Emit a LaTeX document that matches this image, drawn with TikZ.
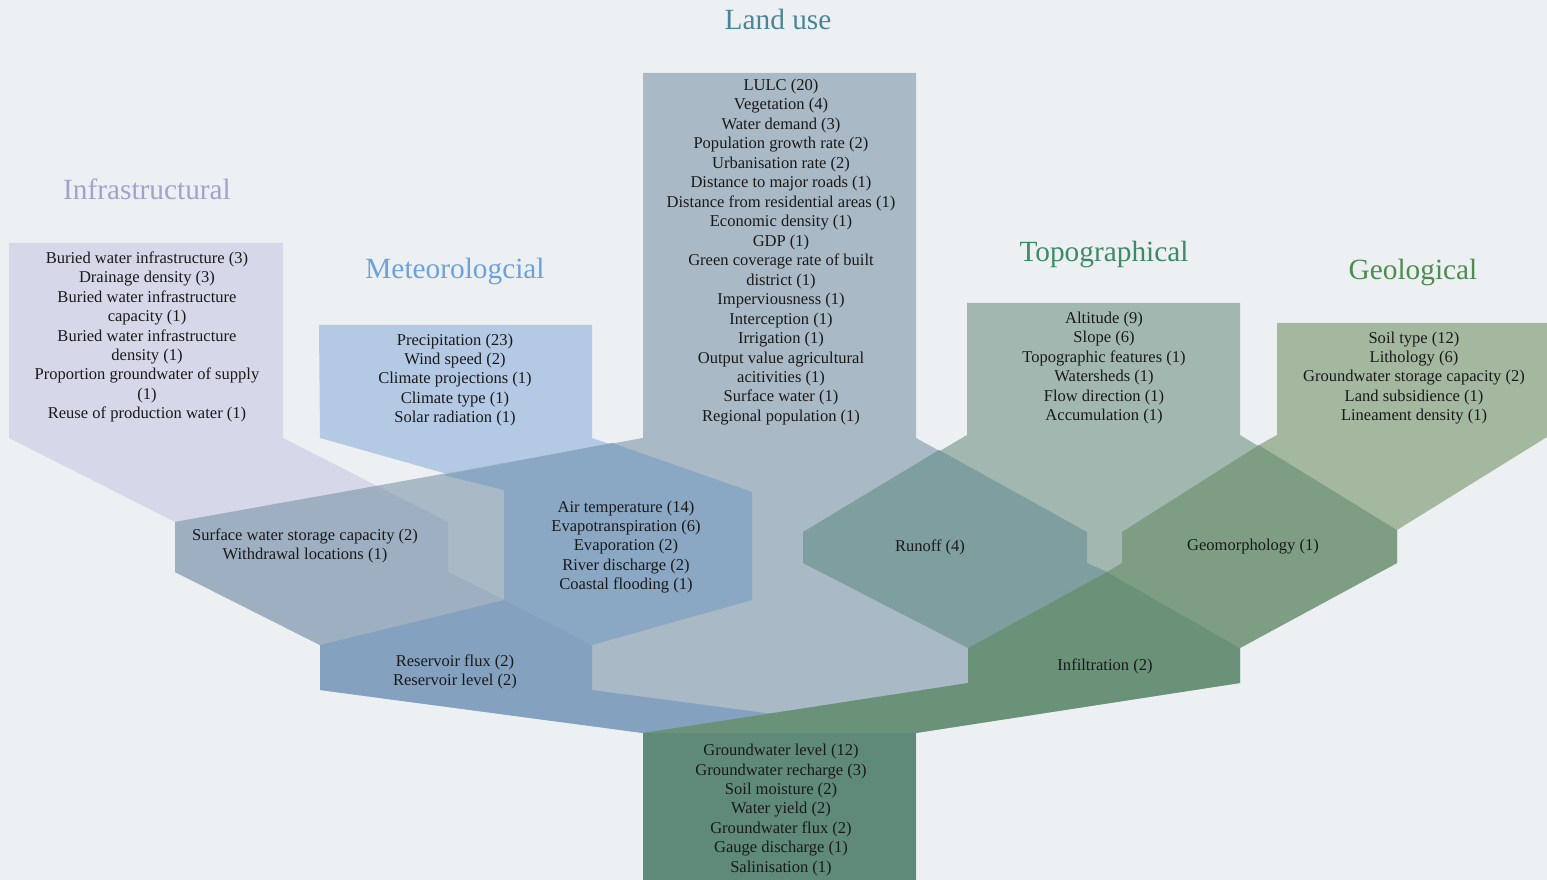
\documentclass[tikz,border=0pt]{standalone}
\usepackage{fontspec}
\setmainfont{Liberation Serif}
\usepackage{xcolor}
\usepackage{tikz}
\usetikzlibrary{positioning}
% fills of the bands and of their overlaps
\definecolor{bgc}{HTML}{EDF0F3}
\definecolor{infraC}{HTML}{D6D8E9}
\definecolor{meteoC}{HTML}{B3C9E4}
\definecolor{landC}{HTML}{A9B9C5}
\definecolor{topoC}{HTML}{A2B7AF}
\definecolor{geoC}{HTML}{A4B8A0}
\definecolor{swaterC}{HTML}{9FAFC2}
\definecolor{airC}{HTML}{8AA8C3}
\definecolor{resC}{HTML}{84A2BF}
\definecolor{runoffC}{HTML}{7E9E9F}
\definecolor{geomC}{HTML}{7E9E84}
\definecolor{infilC}{HTML}{6A9279}
\definecolor{gwC}{HTML}{5F8A7A}
% heading colours
\definecolor{infraT}{HTML}{A3A2CC}
\definecolor{meteoT}{HTML}{6CA2DC}
\definecolor{landT}{HTML}{4A8597}
\definecolor{topoT}{HTML}{3D8A68}
\definecolor{geoT}{HTML}{4E8C50}
\tikzset{
  items/.style={align=center, inner sep=0pt, text=black!90,
    font=\fontsize{12.4}{14.6}\selectfont},
  head/.style={anchor=base, inner sep=0pt, font=\fontsize{22}{26}\selectfont},
}

\begin{document}
\begin{tikzpicture}[x=0.75pt, y=-0.75pt]
  \useasboundingbox (0,0) rectangle (1547,880);
  \fill[bgc] (0,0) rectangle (1547,880);

  % category bands
  \fill[infraC] (9,243) -- (283,243) -- (283,438) -- (448,522) -- (175,522) -- (9,438) -- cycle;
  \fill[meteoC] (319,325) -- (592,325) -- (592,438) -- (752,492) -- (504,490) -- (320,438) -- cycle;
  \fill[topoC] (967,303) -- (1240,303) -- (1240,435) -- (1397,530) -- (1397,563) -- (1240,648)
    -- (968,648) -- (803,563) -- (803,532) -- (967,435) -- cycle;
  \fill[geoC] (1277,323) -- (1547,323) -- (1547,437) -- (1397,530) -- (1259,445) -- (1277,435) -- cycle;
  \fill[landC] (643,73) -- (916,73) -- (916,438) -- (1087,532) -- (1087,563) -- (1240,648)
    -- (1240,683) -- (916,733) -- (916,880) -- (643,880) -- (643,733) -- (320,690)
    -- (320,645) -- (175,572) -- (175,522) -- (643,438) -- cycle;

  % overlaps
  \fill[swaterC] (175,522) -- (377,486) -- (448,522) -- (448,572) -- (504,600) -- (320,645) -- (175,572) -- cycle;
  \fill[airC] (443,475) -- (612,443) -- (752,492) -- (752,600) -- (592,645) -- (504,600) -- (504,490) -- cycle;
  \fill[resC] (320,645) -- (504,600) -- (592,645) -- (592,690) -- (916,733) -- (643,733) -- (320,690) -- cycle;
  \fill[runoffC] (803,532) -- (939,450) -- (1087,532) -- (1087,563) -- (1107,572) -- (968,648) -- (803,563) -- cycle;
  \fill[geomC] (1122,532) -- (1259,445) -- (1397,530) -- (1397,563) -- (1240,648) -- (1107,572) -- (1122,563) -- cycle;
  \fill[infilC] (968,648) -- (1107,572) -- (1240,648) -- (1240,683) -- (916,733) -- (643,733) -- (968,683) -- cycle;
  \fill[gwC] (643,733) rectangle (916,880);

  % headings
  \node[head, text=landT] (landT) at (778,30) {Land use};
  \node[head, text=infraT] (infraT) at (147,200) {Infrastructural};
  \node[head, text=meteoT] (meteoT) at (455,279) {Meteorologcial};
  \node[head, text=topoT] (topoT) at (1104,262) {Topographical};
  \node[head, text=geoT] (geoT) at (1413,280) {Geological};

  % indicator lists
  \node[items] (infra) at (147,337) {Buried water infrastructure (3)\\Drainage density (3)\\
    Buried water infrastructure\\capacity (1)\\Buried water infrastructure\\density (1)\\
    Proportion groundwater of supply\\(1)\\Reuse of production water (1)};
  \node[items] (meteo) at (455,380) {Precipitation (23)\\Wind speed (2)\\Climate projections (1)\\
    Climate type (1)\\Solar radiation (1)};
  \node[items] (land) at (781,252) {LULC (20)\\Vegetation (4)\\Water demand (3)\\
    Population growth rate (2)\\Urbanisation rate (2)\\Distance to major roads (1)\\
    Distance from residential areas (1)\\Economic density (1)\\GDP (1)\\
    Green coverage rate of built\\district (1)\\Imperviousness (1)\\Interception (1)\\
    Irrigation (1)\\Output value agricultural\\acitivities (1)\\Surface water (1)\\
    Regional population (1)};
  \node[items] (topo) at (1104,368) {Altitude (9)\\Slope (6)\\Topographic features (1)\\
    Watersheds (1)\\Flow direction (1)\\Accumulation (1)};
  \node[items] (geo) at (1414,378) {Soil type (12)\\Lithology (6)\\Groundwater storage capacity (2)\\
    Land subsidience (1)\\Lineament density (1)};
  \node[items] (swater) at (305,546) {Surface water storage capacity (2)\\Withdrawal locations (1)};
  \node[items] (air) at (626,547) {Air temperature (14)\\Evapotranspiration (6)\\Evaporation (2)\\
    River discharge (2)\\Coastal flooding (1)};
  \node[items] (runoff) at (930,547) {Runoff (4)};
  \node[items] (geom) at (1253,547) {Geomorphology (1)};
  \node[items] (res) at (455,672) {Reservoir flux (2)\\Reservoir level (2)};
  \node[items] (infil) at (1105,666) {Infiltration (2)};
  \node[items] (gw) at (781,810) {Groundwater level (12)\\Groundwater recharge (3)\\Soil moisture (2)\\
    Water yield (2)\\Groundwater flux (2)\\Gauge discharge (1)\\Salinisation (1)};
\end{tikzpicture}
\end{document}
